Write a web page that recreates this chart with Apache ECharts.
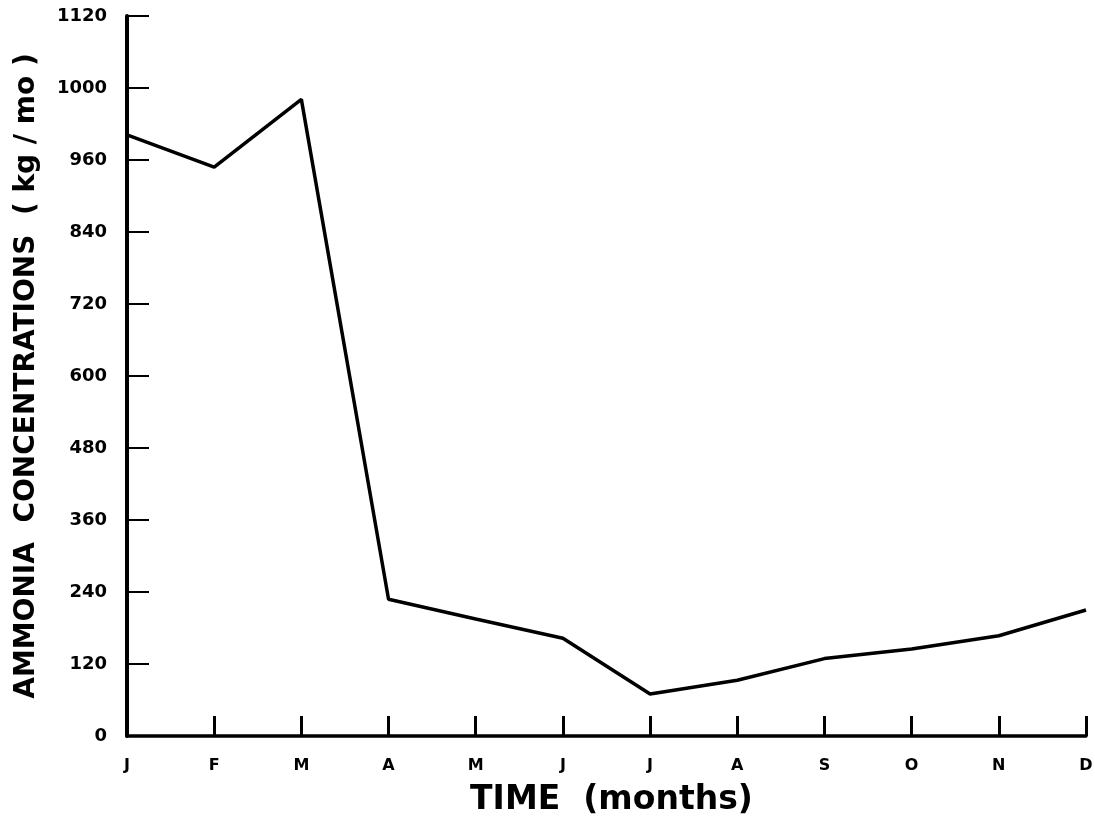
<!DOCTYPE html>
<html>
<head>
<meta charset="utf-8">
<script src="https://cdn.jsdelivr.net/npm/echarts@6/dist/echarts.min.js"></script>
<style>
  html, body { margin: 0; padding: 0; background: #fff; }
  #chart { width: 1095px; height: 821px; }
</style>
</head>
<body>
<div id="chart"></div>
<script>
// Monthly ammonia loading, January to December
const months = ['J', 'F', 'M', 'A', 'M', 'J', 'J', 'A', 'S', 'O', 'N', 'D'];
const ammonia = [1002, 948, 1061, 228, 195, 163, 70, 93, 129, 145, 167, 210];

// Tick values on the y axis and the labels printed beside them
const yTickValues = [0, 120, 240, 360, 480, 600, 720, 840, 960, 1080, 1200];
const yTickLabels = ['0', '120', '240', '360', '480', '600', '720', '840', '960', '1000', '1120'];

const font = 'DejaVu Sans, Verdana, sans-serif';

const chart = echarts.init(document.getElementById('chart'), null, { renderer: 'canvas' });
chart.setOption({
  backgroundColor: '#ffffff',
  animation: false,
  grid: { left: 127, right: 9, top: 16, bottom: 85, containLabel: false, outerBoundsMode: 'none' },
  xAxis: {
    type: 'category',
    data: months,
    boundaryGap: false,
    name: 'TIME  (months)',
    nameLocation: 'middle',
    nameGap: 48,
    nameTextStyle: { color: '#000', fontSize: 33, fontWeight: 'bold', fontFamily: font, padding: [0, 0, 0, 10] },
    axisLine: { show: true, lineStyle: { color: '#000', width: 3.5 } },
    axisTick: { show: true, inside: true, length: 20, lineStyle: { color: '#000', width: 3 } },
    axisLabel: { color: '#000', fontSize: 16, fontWeight: 'bold', fontFamily: font, margin: 22 },
    splitLine: { show: false }
  },
  yAxis: {
    type: 'value',
    min: 0,
    max: 1200,
    interval: 120,
    name: 'AMMONIA  CONCENTRATIONS  ( kg / mo )',
    nameLocation: 'middle',
    nameRotate: 90,
    nameGap: 86,
    nameTextStyle: { color: '#000', fontSize: 28, fontWeight: 'bold', fontFamily: font },
    axisLine: { show: true, lineStyle: { color: '#000', width: 4 } },
    axisTick: { show: true, inside: true, length: 22, lineStyle: { color: '#000', width: 2 } },
    axisLabel: {
      color: '#000', fontSize: 18, fontWeight: 'bold', fontFamily: font, margin: 20,
      formatter: function (v) {
        const i = yTickValues.indexOf(v);
        return i >= 0 ? yTickLabels[i] : '';
      }
    },
    splitLine: { show: false }
  },
  series: [{
    type: 'line',
    data: ammonia,
    symbol: 'none',
    lineStyle: { color: '#000', width: 3.5 },
    z: 3
  }]
});
</script>
</body>
</html>
